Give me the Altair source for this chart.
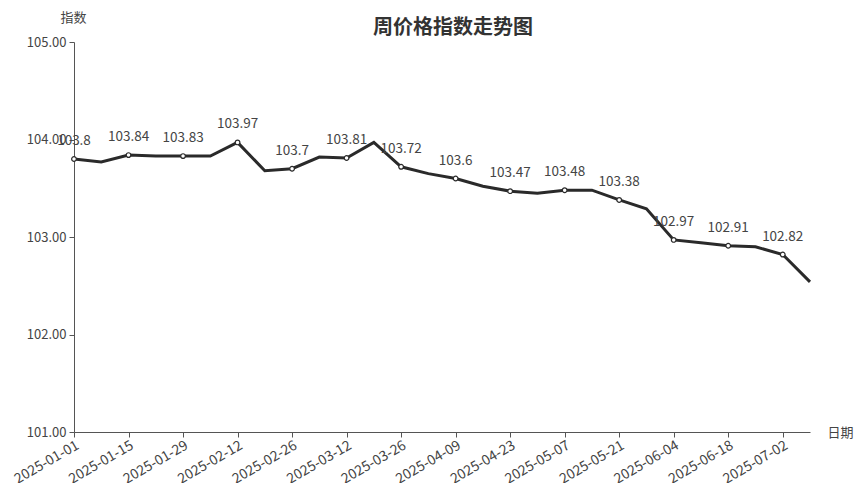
import altair as alt
import pandas as pd

dates = ["2025-01-01", "2025-01-08", "2025-01-15", "2025-01-22", "2025-01-29", "2025-02-05",
         "2025-02-12", "2025-02-19", "2025-02-26", "2025-03-05", "2025-03-12", "2025-03-19",
         "2025-03-26", "2025-04-02", "2025-04-09", "2025-04-16", "2025-04-23", "2025-04-30",
         "2025-05-07", "2025-05-14", "2025-05-21", "2025-05-28", "2025-06-04", "2025-06-11",
         "2025-06-18", "2025-06-25", "2025-07-02", "2025-07-09"]
values = [103.80, 103.77, 103.84, 103.83, 103.83, 103.83,
          103.97, 103.68, 103.70, 103.82, 103.81, 103.97,
          103.72, 103.65, 103.60, 103.52, 103.47, 103.45,
          103.48, 103.48, 103.38, 103.29, 102.97, 102.94,
          102.91, 102.90, 102.82, 102.54]
y_ticks = [101, 102, 103, 104, 105]
chart_title = "周价格指数走势图"

df = pd.DataFrame({"date": dates, "value": values})
df["label"] = [f"{v:g}" for v in values]
df["show"] = [i % 2 == 0 for i in range(len(dates))]
shown_dates = [d for i, d in enumerate(dates) if i % 2 == 0]

FONT = "Noto Sans CJK SC"
TXT = "#444444"

x_enc = alt.X("date:O", sort=dates,
              scale=alt.Scale(type="point", padding=0),
              axis=alt.Axis(values=shown_dates, labelAngle=-30, labelAlign="right",
                            labelBaseline="top", labelFontSize=14, labelColor=TXT,
                            labelFont=FONT, domainColor="#555555", tickColor="#555555",
                            tickSize=5, grid=False, title="日期", titleAngle=0,
                            titleX=766, titleY=0, titleAlign="center",
                            titleBaseline="middle", titleFontSize=13,
                            titleFontWeight="normal", titleColor=TXT, titleFont=FONT,
                            labelOverlap=False, labelPadding=1))
y_enc = alt.Y("value:Q",
              scale=alt.Scale(domain=[101, 105], nice=False, zero=False),
              axis=alt.Axis(values=y_ticks, format=".2f", labelFontSize=13,
                            labelColor=TXT, labelFont=FONT, domainColor="#555555",
                            tickColor="#555555", tickSize=5, grid=False,
                            title="指数", titleAngle=0, titleX=-1, titleY=-25,
                            titleAlign="center", titleBaseline="middle",
                            titleFontSize=13, titleFontWeight="normal",
                            titleColor=TXT, titleFont=FONT, labelPadding=3))

base = alt.Chart(df).encode(x=x_enc, y=y_enc)

line = base.mark_line(color="#2a2a2a", strokeWidth=3)
pts = base.transform_filter("datum.show").mark_point(
    shape="circle", filled=True, fill="white", stroke="#2a2a2a",
    strokeWidth=1.2, size=22, opacity=1)
labels = base.transform_filter("datum.show").mark_text(
    baseline="bottom", dy=-11, fontSize=13.5, font=FONT, color=TXT
).encode(text="label:N")

title_df = pd.DataFrame({"t": [chart_title]})
title = alt.Chart(title_df).mark_text(
    fontSize=20, fontWeight="bold", font=FONT, color="#333333",
    align="center", baseline="middle"
).encode(text="t:N", x=alt.value(379), y=alt.value(-14))

chart = (line + pts + labels + title).properties(
    width=736, height=390,
    autosize=alt.AutoSizeParams(type="none"),
    padding={"left": 66, "top": 34, "right": 47, "bottom": 51},
).configure_view(stroke=None)

chart.save("out.html", embed_options={"renderer": "svg", "actions": False})
